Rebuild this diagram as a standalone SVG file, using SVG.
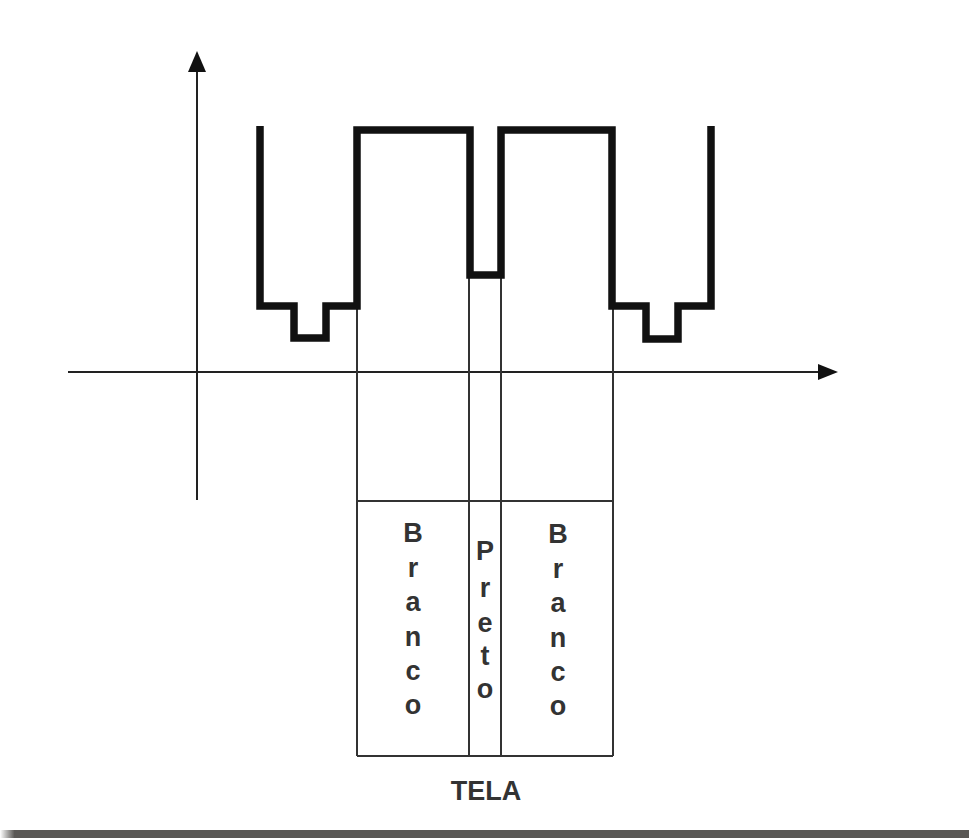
<svg xmlns="http://www.w3.org/2000/svg" width="969" height="838" viewBox="0 0 969 838">
<style>
.axis{stroke:#222;stroke-width:2;fill:none}
.wave{stroke:#111;stroke-width:7.5;fill:none;stroke-linejoin:miter;stroke-linecap:butt}
.thin{stroke:#333;stroke-width:2;fill:none}
.lbl{font-family:"Liberation Sans",Arial,sans-serif;font-weight:bold;font-size:27px;fill:#333;text-anchor:middle}
</style>
<defs>
<linearGradient id="barg" x1="0" x2="1" y1="0" y2="0">
<stop offset="0" stop-color="#fff"/>
<stop offset="0.015" stop-color="#5a5855"/>
<stop offset="1" stop-color="#5a5855"/>
</linearGradient>
</defs>
<rect width="969" height="838" fill="#fff"/>
<g id="axes">
<line class="axis" x1="197" y1="68" x2="197" y2="500"/>
<polygon points="197,51 188,72 206,72" fill="#111"/>
<line class="axis" x1="68" y1="372" x2="822" y2="372"/>
<polygon points="838,372 818,364 818,380" fill="#111"/>
</g>
<g id="connectors">
<line class="thin" x1="357" y1="307" x2="357" y2="756"/>
<line class="thin" x1="469" y1="276" x2="469" y2="756"/>
<line class="thin" x1="501" y1="276" x2="501" y2="756"/>
<line class="thin" x1="613" y1="307" x2="613" y2="756"/>
</g>
<g id="waveform">
<polyline class="wave" points="260,126 260,306 294,306 294,338 326,338 326,306 357,306 357,130 470,130 470,275 501,275 501,130 612,130 612,306 646,306 646,339 678,339 678,306 711,306 711,126"/>
</g>
<g id="tela">
<line class="thin" x1="357" y1="501" x2="613" y2="501"/>
<line class="thin" x1="357" y1="756" x2="613" y2="756"/>
<g id="branco1">
<text class="lbl" x="413" y="542">B</text>
<text class="lbl" x="413" y="577">r</text>
<text class="lbl" x="413" y="611">a</text>
<text class="lbl" x="413" y="646">n</text>
<text class="lbl" x="413" y="680">c</text>
<text class="lbl" x="413" y="714">o</text>
</g>
<g id="preto">
<text class="lbl" x="485" y="560">P</text>
<text class="lbl" x="485" y="597">r</text>
<text class="lbl" x="485" y="632">e</text>
<text class="lbl" x="485" y="665">t</text>
<text class="lbl" x="485" y="698">o</text>
</g>
<g id="branco2">
<text class="lbl" x="558" y="543">B</text>
<text class="lbl" x="558" y="578">r</text>
<text class="lbl" x="558" y="612">a</text>
<text class="lbl" x="558" y="647">n</text>
<text class="lbl" x="558" y="681">c</text>
<text class="lbl" x="558" y="715">o</text>
</g>
<text class="lbl" x="486" y="800" fill="#222">TELA</text>
</g>
<rect x="0" y="830" width="969" height="8" fill="url(#barg)"/>
</svg>
